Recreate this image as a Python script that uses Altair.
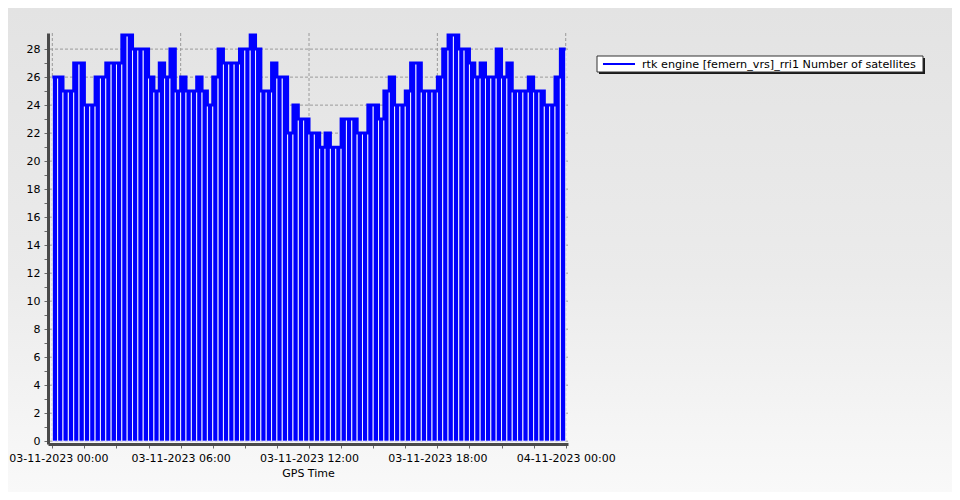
import altair as alt
import pandas as pd

# ---------------- data ----------------
start_time = "2023-11-03T00:00:00Z"
step_minutes = 15

# number of satellites per 15-minute interval
sat_counts = (
    [26, 26, 25, 25, 27, 27, 24, 24, 26, 26, 27, 27, 27, 29, 29, 28, 28, 28, 26]          # 00:00-04:45
    + [25, 27, 26, 28, 25, 26, 25, 25, 26, 25, 24, 26, 28, 27, 27, 27, 28, 28, 29, 28]   # 04:45-09:45
    + [25, 25, 27, 26, 26, 22, 24, 23, 23, 22, 22, 21, 22, 21, 21, 23, 23, 23, 22]       # 09:45-14:30
    + [22, 24, 24, 23, 25, 26, 24, 24, 25, 27, 27, 25, 25, 25, 26, 28, 29, 29, 28, 28]   # 14:30-19:30
    + [27, 26, 27, 26, 26, 28, 26, 27, 25, 25, 25, 26, 25, 25, 24, 24, 26, 28]           # 19:30-24:00
)

y_ticks = list(range(0, 29))
y_grid = list(range(0, 29, 2))
x_tick_minutes = list(range(0, 24 * 60 + 1, 90))
x_grid_minutes = [0, 360, 720, 1080, 1440]

series_label = "rtk engine [femern_vrs]_rri1 Number of satellites"
x_title = "GPS Time"

# ---------------- tables ----------------
t0 = pd.Timestamp(start_time).value // 10**6
MIN = 60_000
step = step_minutes * MIN

bars_df = pd.DataFrame({
    "tc": [t0 + i * step + step // 2 for i in range(len(sat_counts))],
    "sats": sat_counts,
})
line_df = pd.DataFrame({
    "t": [t0 + i * step for i in range(len(sat_counts) + 1)],
    "sats": sat_counts + [sat_counts[-1]],
})
ygrid_df = pd.DataFrame({"g": y_grid})
xgrid_df = pd.DataFrame({"tg": [t0 + m * MIN for m in x_grid_minutes]})

x_scale = alt.Scale(type="utc", domain=[t0 - int(12.1 * MIN), t0 + 1440 * MIN + int(6.4 * MIN)],
                    padding=0, nice=False)
y_scale = alt.Scale(domain=[-0.2, 29.15], nice=False, zero=False, padding=0)

major_x = "utchours(datum.value) % 6 == 0 && utcminutes(datum.value) == 0"
x_axis = alt.Axis(
    values=[t0 + m * MIN for m in x_tick_minutes],
    labelExpr=f"({major_x}) ? utcFormat(datum.value, '%d-%m-%Y %H:%M') : ''",
    labelOffset={"condition": {"test": f"time(datum.value) == {t0}", "value": 6}, "value": 0},
    title=x_title, grid=False, zindex=1,
    labelFont="DejaVu Sans", labelFontSize=11, labelColor="black",
    titleFont="DejaVu Sans", titleFontSize=11, titleFontWeight="normal", titleColor="black",
    titlePadding=4, labelPadding=4, tickSize=4, tickColor="#6a6a6a",
    domainColor="#4a4a4a", domainWidth=3, labelOverlap=False,
)
y_axis = alt.Axis(
    values=y_ticks,
    labelExpr="datum.value % 2 == 0 ? datum.label : ''",
    title=None, grid=False, zindex=1,
    labelFont="DejaVu Sans", labelFontSize=11, labelColor="black",
    labelPadding=4, tickSize=4, tickColor="#6a6a6a",
    domainColor="#4a4a4a", domainWidth=3,
)

W, H = 520, 411
PAD = {"left": 40, "top": 25, "right": 384, "bottom": 48}

one = alt.Data(values=[{"label": series_label}])

background = alt.Chart(one).mark_rect(
    fill=alt.LinearGradient(
        gradient="linear",
        stops=[alt.GradientStop(offset=0, color="#e3e3e3"),
               alt.GradientStop(offset=0.55, color="#ebebeb"),
               alt.GradientStop(offset=1, color="#f9f9f9")],
        x1=0, x2=0, y1=0, y2=1,
    )
).encode(
    x=alt.value(-PAD["left"]), x2=alt.value(W + PAD["right"]),
    y=alt.value(-PAD["top"]), y2=alt.value(H + PAD["bottom"]),
)

ygrid = alt.Chart(ygrid_df).mark_rule(color="#9a9a9a", strokeDash=[3, 2], strokeWidth=1).encode(
    y=alt.Y("g:Q", scale=y_scale, axis=y_axis)
)
xgrid = alt.Chart(xgrid_df).mark_rule(color="#9a9a9a", strokeDash=[3, 2], strokeWidth=1).encode(
    x=alt.X("tg:T", scale=x_scale, axis=x_axis)
)

bars = alt.Chart(bars_df).mark_bar(
    width=5.35, color="#0000ff", stroke="white", strokeWidth=0.9
).encode(
    x=alt.X("tc:T", scale=x_scale, axis=x_axis),
    y=alt.Y("sats:Q", scale=y_scale, axis=y_axis),
    y2=alt.datum(0),
)

line = alt.Chart(line_df).mark_line(
    interpolate="step-after", color="#0000ff", strokeWidth=3
).encode(
    x=alt.X("t:T", scale=x_scale, axis=x_axis),
    y=alt.Y("sats:Q", scale=y_scale, axis=y_axis),
)

# legend (box with drop shadow, line sample and label)
lx, ly, lw, lh = 549, 23, 326, 16
legend_shadow = alt.Chart(one).mark_rect(fill="#1a1a1a").encode(
    x=alt.value(lx + 2), x2=alt.value(lx + lw + 2), y=alt.value(ly + 2), y2=alt.value(ly + lh + 2)
)
legend_box = alt.Chart(one).mark_rect(fill="white", stroke="#333333", strokeWidth=1).encode(
    x=alt.value(lx), x2=alt.value(lx + lw), y=alt.value(ly), y2=alt.value(ly + lh)
)
legend_line = alt.Chart(one).mark_rule(color="#0000ff", strokeWidth=2).encode(
    x=alt.value(lx + 6), x2=alt.value(lx + 38), y=alt.value(ly + lh / 2)
)
legend_text = alt.Chart(one).mark_text(
    align="left", baseline="middle", font="DejaVu Sans", fontSize=11.2, color="black"
).encode(
    x=alt.value(lx + 45), y=alt.value(ly + lh / 2 + 0.5), text="label:N"
)

chart = alt.layer(
    background, ygrid, xgrid, bars, line,
    legend_shadow, legend_box, legend_line, legend_text,
).properties(
    width=W, height=H,
    padding=PAD,
    autosize=alt.AutoSizeParams(type="none"),
    background="#ebebeb",
).configure_view(stroke="transparent")

chart.save("out.html", embed_options={"renderer": "svg", "actions": False})
